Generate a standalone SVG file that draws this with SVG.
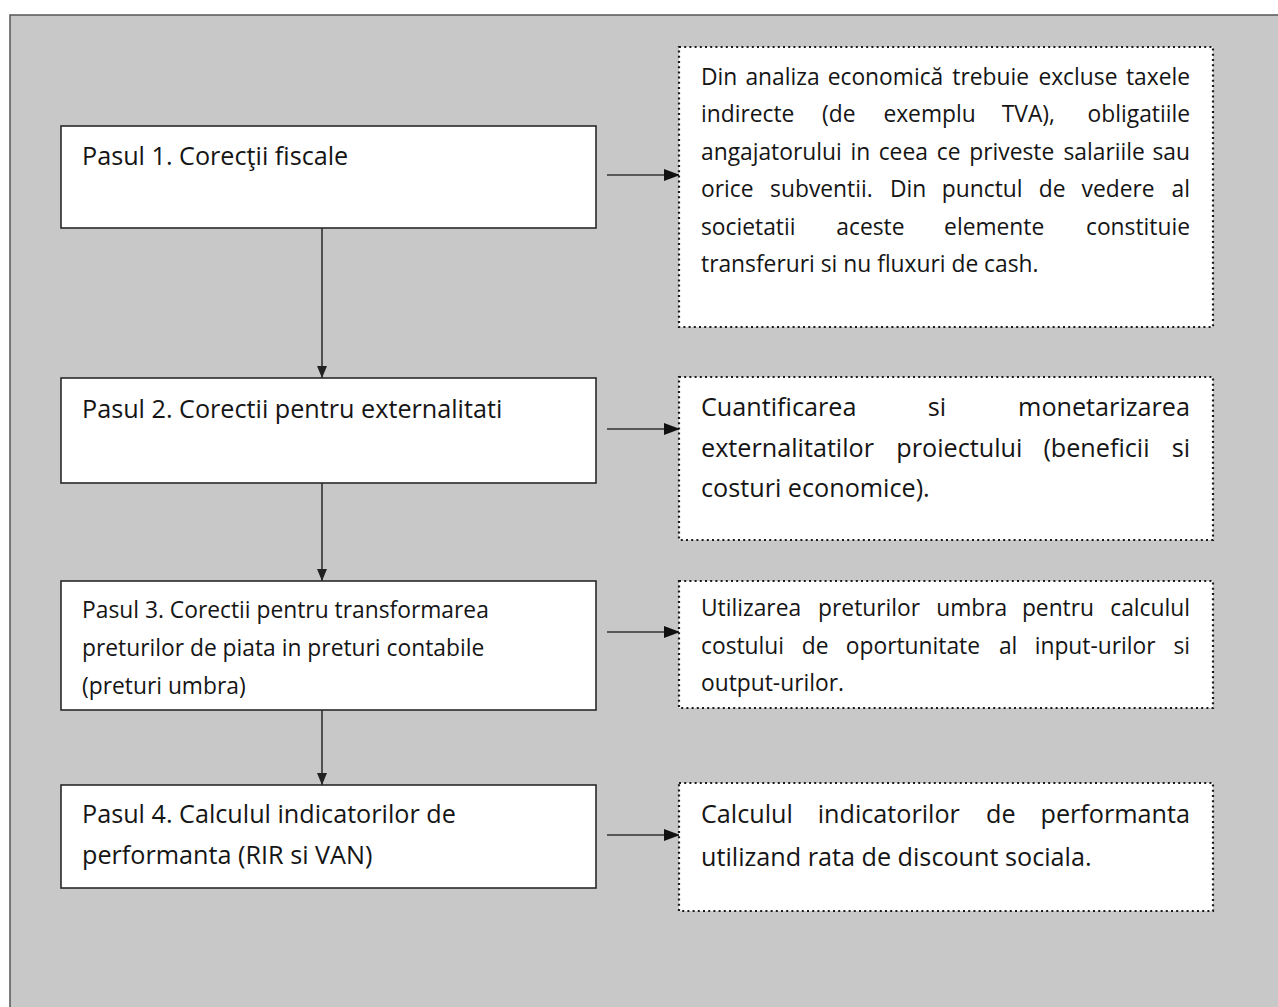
<svg xmlns="http://www.w3.org/2000/svg" width="1278" height="1007" viewBox="0 0 1278 1007">
<defs>
<style>
.bg{fill:#c8c8c8}
.step{fill:#fff;stroke:#2a2a2a;stroke-width:1.6}
.note{fill:#fff;stroke:#1a1a1a;stroke-width:2.2;stroke-dasharray:2 3.2}
.t{font-family:"Open Sans","Noto Sans","Liberation Sans",sans-serif;fill:#151515}
.s{font-size:25.2px}
.n{font-size:22.8px}
.e{text-anchor:end}
.c{stroke:#333;stroke-width:1.6;fill:none}
</style>
<marker id="ah" viewBox="0 0 12 10" refX="12" refY="5" markerWidth="12" markerHeight="10" markerUnits="userSpaceOnUse" orient="auto">
<path d="M0,0 L12,5 L0,10 Z" fill="#222"/>
</marker>
<marker id="ah2" viewBox="0 0 16 12" refX="16" refY="6" markerWidth="16" markerHeight="12" markerUnits="userSpaceOnUse" orient="auto">
<path d="M0,0 L16,6 L0,12 Z" fill="#111"/>
</marker>
</defs>
<rect x="0" y="0" width="1278" height="1007" fill="#ffffff"/>
<rect class="bg" x="10" y="15" width="1268" height="992"/>
<path d="M10,1007 L10,15 L1278,15" fill="none" stroke="#555" stroke-width="1.5"/>

<g id="connectors">
<line class="c" x1="322" y1="228" x2="322" y2="378" marker-end="url(#ah)"/>
<line class="c" x1="322" y1="483" x2="322" y2="581" marker-end="url(#ah)"/>
<line class="c" x1="322" y1="710" x2="322" y2="785" marker-end="url(#ah)"/>
<line class="c" x1="607" y1="175" x2="680" y2="175" marker-end="url(#ah2)"/>
<line class="c" x1="607" y1="429" x2="680" y2="429" marker-end="url(#ah2)"/>
<line class="c" x1="607" y1="632" x2="680" y2="632" marker-end="url(#ah2)"/>
<line class="c" x1="607" y1="835" x2="680" y2="835" marker-end="url(#ah2)"/>
</g>

<g id="step1">
<rect class="step" x="61" y="126" width="535" height="102"/>
<text class="t s" x="82" y="165">Pasul 1. Corecţii fiscale</text>
</g>

<g id="step2">
<rect class="step" x="61" y="378" width="535" height="105"/>
<text class="t s" x="82" y="418">Pasul 2. Corectii pentru externalitati</text>
</g>

<g id="step3">
<rect class="step" x="61" y="581" width="535" height="129"/>
<text class="t n" x="82" y="618">Pasul 3. Corectii pentru transformarea</text>
<text class="t n" x="82" y="656">preturilor de piata in preturi contabile</text>
<text class="t n" x="82" y="694">(preturi umbra)</text>
</g>

<g id="step4">
<rect class="step" x="61" y="785" width="535" height="103"/>
<text class="t s" x="82" y="823">Pasul 4. Calculul indicatorilor de</text>
<text class="t s" x="82" y="864">performanta (RIR si VAN)</text>
</g>

<g id="note1">
<rect class="note" x="679" y="47" width="534" height="280"/>
<text class="t n" y="85"><tspan x="701">Din</tspan><tspan x="745.4">analiza</tspan><tspan x="827.7">economică</tspan><tspan x="952.3">trebuie</tspan><tspan x="1038.4">excluse</tspan></text>
<text class="t n e" x="1190" y="85">taxele</text>
<text class="t n" y="122.4"><tspan x="701">indirecte</tspan><tspan x="822.1">(de</tspan><tspan x="883.4">exemplu</tspan><tspan x="1001.8">TVA),</tspan></text>
<text class="t n e" x="1190" y="122.4">obligatiile</text>
<text class="t n" y="159.8"><tspan x="701">angajatorului</tspan><tspan x="850.5">in</tspan><tspan x="878.7">ceea</tspan><tspan x="936.8">ce</tspan><tspan x="969.3">priveste</tspan><tspan x="1063.5">salariile</tspan></text>
<text class="t n e" x="1190" y="159.8">sau</text>
<text class="t n" y="197.2"><tspan x="701">orice</tspan><tspan x="770.1">subventii.</tspan><tspan x="889.9">Din</tspan><tspan x="941.8">punctul</tspan><tspan x="1038.7">de</tspan><tspan x="1081.6">vedere</tspan></text>
<text class="t n e" x="1190" y="197.2">al</text>
<text class="t n" y="234.6"><tspan x="701">societatii</tspan><tspan x="836.3">aceste</tspan><tspan x="944.1">elemente</tspan></text>
<text class="t n e" x="1190" y="234.6">constituie</text>
<text class="t n" x="701" y="272">transferuri si nu fluxuri de cash.</text>
</g>

<g id="note2">
<rect class="note" x="679" y="377" width="534" height="163"/>
<text class="t s" y="416"><tspan x="701">Cuantificarea</tspan><tspan x="927.8">si</tspan></text>
<text class="t s e" x="1190" y="416">monetarizarea</text>
<text class="t s" y="456.5"><tspan x="701">externalitatilor</tspan><tspan x="896.3">proiectului</tspan><tspan x="1043.4">(beneficii</tspan></text>
<text class="t s e" x="1190" y="456.5">si</text>
<text class="t s" x="701" y="497">costuri economice).</text>
</g>

<g id="note3">
<rect class="note" x="679" y="581" width="534" height="127"/>
<text class="t n" y="616"><tspan x="701">Utilizarea</tspan><tspan x="818.1">preturilor</tspan><tspan x="936.2">umbra</tspan><tspan x="1021.9">pentru</tspan></text>
<text class="t n e" x="1190" y="616">calculul</text>
<text class="t n" y="654"><tspan x="701">costului</tspan><tspan x="801.7">de</tspan><tspan x="845.8">oportunitate</tspan><tspan x="998.9">al</tspan><tspan x="1034.7">input-urilor</tspan></text>
<text class="t n e" x="1190" y="654">si</text>
<text class="t n" x="701" y="691">output-urilor.</text>
</g>

<g id="note4">
<rect class="note" x="679" y="783" width="534" height="128"/>
<text class="t s" y="823"><tspan x="701">Calculul</tspan><tspan x="817.7">indicatorilor</tspan><tspan x="986">de</tspan></text>
<text class="t s e" x="1190" y="823">performanta</text>
<text class="t s" x="701" y="866">utilizand rata de discount sociala.</text>
</g>
</svg>
